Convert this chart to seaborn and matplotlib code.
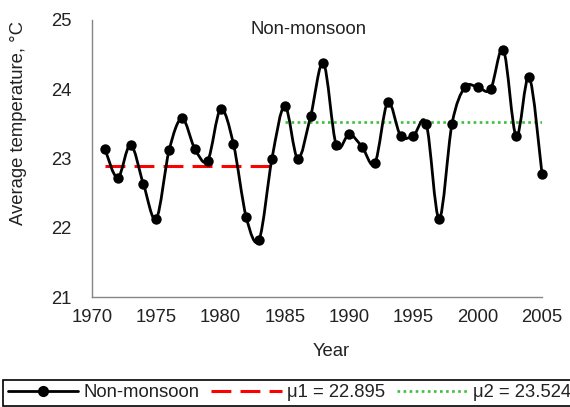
import numpy as np
import pandas as pd
import matplotlib
matplotlib.use("Agg")
import matplotlib.pyplot as plt
import seaborn as sns
from matplotlib.path import Path
from matplotlib.patches import PathPatch
from matplotlib.lines import Line2D

# ---------------- data ----------------
years = list(range(1971, 2006))
temps = [23.14, 22.72, 23.20, 22.63, 22.13, 23.12, 23.58, 23.14, 22.97, 23.71,
         23.21, 22.15, 21.83, 23.00, 23.76, 23.00, 23.61, 24.38, 23.19, 23.35,
         23.17, 22.93, 23.81, 23.33, 23.33, 23.50, 22.13, 23.50, 24.03, 24.03,
         24.00, 24.57, 23.32, 24.18, 22.78]
mu1_years = [1971, 1984]
mu1_value = 22.895
mu2_years = [1985, 2005]
mu2_value = 23.524
series_label = "Non-monsoon"
mu1_label = "\u03bc1 = 22.895"
mu2_label = "\u03bc2 = 23.524"
x_ticks = [1970, 1975, 1980, 1985, 1990, 1995, 2000, 2005]
y_ticks = [21, 22, 23, 24, 25]

df = pd.DataFrame({"Year": years, "Temp": temps})
df_mu1 = pd.DataFrame({"Year": mu1_years, "Temp": [mu1_value] * len(mu1_years)})
df_mu2 = pd.DataFrame({"Year": mu2_years, "Temp": [mu2_value] * len(mu2_years)})

# ---------------- style ----------------
sns.set_theme(style="white")
plt.rcParams["font.family"] = ["Liberation Sans", "DejaVu Sans"]
FS = 13.3
AXC = "#858585"

W, H = 570, 407
fig = plt.figure(figsize=(W / 100, H / 100), dpi=100)
ax = fig.add_axes([92 / W, (H - 297) / H, 450 / W, 277 / H])

# smooth (Excel-like) curve through the data points: cubic Bezier, Catmull-Rom tangents
x = np.asarray(df["Year"], dtype=float)
y = np.asarray(df["Temp"], dtype=float)
verts = [(x[0], y[0])]
codes = [Path.MOVETO]
n = len(x)
for i in range(n - 1):
    p0 = np.array([x[max(i - 1, 0)], y[max(i - 1, 0)]])
    p1 = np.array([x[i], y[i]])
    p2 = np.array([x[i + 1], y[i + 1]])
    p3 = np.array([x[min(i + 2, n - 1)], y[min(i + 2, n - 1)]])
    c1 = p1 + (p2 - p0) / 6.0
    c2 = p2 - (p3 - p1) / 6.0
    verts += [tuple(c1), tuple(c2), tuple(p2)]
    codes += [Path.CURVE4, Path.CURVE4, Path.CURVE4]
ax.add_patch(PathPatch(Path(verts, codes), facecolor="none", edgecolor="black",
                       lw=2.0, zorder=3, capstyle="round", joinstyle="round",
                       clip_on=False))

# mean lines
sns.lineplot(data=df_mu1, x="Year", y="Temp", ax=ax, color="#ff0000", lw=2.2,
             linestyle=(0, (6.5, 3)), zorder=2)
sns.lineplot(data=df_mu2, x="Year", y="Temp", ax=ax, color="#3cc03c", lw=1.9,
             linestyle=(0, (1, 1.3)), zorder=2)

# markers
sns.scatterplot(data=df, x="Year", y="Temp", ax=ax, color="black", s=56,
                edgecolor="black", linewidth=0, zorder=4, clip_on=False)

# axes
ax.set_xlim(1970, 2005)
ax.set_ylim(21, 25)
ax.set_xticks(x_ticks)
ax.set_yticks(y_ticks)
ax.set_xticklabels([str(t) for t in x_ticks])
ax.set_yticklabels([str(t) for t in y_ticks])
for s in ["top", "right"]:
    ax.spines[s].set_visible(False)
for s in ["left", "bottom"]:
    ax.spines[s].set_color(AXC)
    ax.spines[s].set_linewidth(1.0)
ax.tick_params(axis="both", direction="inout", length=8, width=1.0, color=AXC,
               labelsize=FS, labelcolor="#222222")
ax.tick_params(axis="x", pad=5)
ax.tick_params(axis="y", pad=11)
ax.grid(False)

ax.set_xlabel("Year", fontsize=FS, color="#222222")
ax.set_ylabel("Average temperature, \u00b0C", fontsize=FS, color="#222222")
ax.xaxis.set_label_coords(0.532, -0.165)
ax.yaxis.set_label_coords(-0.145, 0.628)

ax.text(0.48, 0.964, series_label, transform=ax.transAxes, ha="center", va="center",
        fontsize=FS, color="#222222")

# legend
handles = [
    Line2D([], [], color="black", lw=2.0, marker="o", markersize=7),
    Line2D([], [], color="#ff0000", lw=2.2, linestyle=(0, (6.5, 3))),
    Line2D([], [], color="#3cc03c", lw=1.9, linestyle=(0, (1, 1.3))),
]
leg = fig.legend(handles, [series_label, mu1_label, mu2_label], loc="lower left",
                 bbox_to_anchor=(3 / W, 1 / H), bbox_transform=fig.transFigure,
                 ncol=3, fontsize=FS, handlelength=3.8, handletextpad=0.3,
                 columnspacing=0.65, borderpad=0.25, borderaxespad=0,
                 numpoints=1, fancybox=False, framealpha=1)
leg.get_frame().set_edgecolor("black")
leg.get_frame().set_linewidth(1.2)
for t in leg.get_texts():
    t.set_color("#222222")

fig.savefig("out.png", dpi=100)
